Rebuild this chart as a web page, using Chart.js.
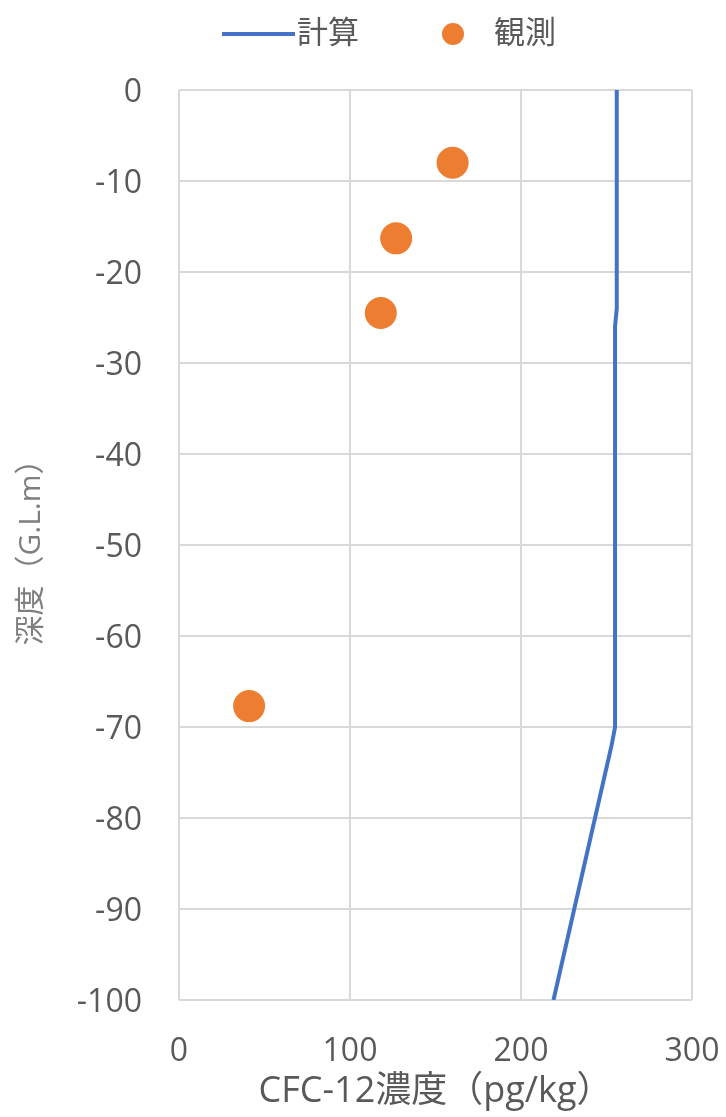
<!DOCTYPE html>
<html>
<head>
<meta charset="utf-8">
<script src="https://cdn.jsdelivr.net/npm/chart.js@4/dist/chart.umd.min.js"></script>
<style>
  body { margin: 0; background: #fff; }
  #wrap { width: 726px; height: 1117px; }
</style>
</head>
<body>
<div id="wrap"><canvas id="myChart" width="726" height="1117"></canvas></div>
<script>
// 計算 (model profile)
const calcConc = [256, 256, 255, 255, 253, 219];
const calcDepth = [0, -24, -26, -70, -72, -100];
// 観測 (observed)
const obsConc = [160, 127, 118, 41];
const obsDepth = [-8, -16.3, -24.5, -67.7];

const seriesNames = ['計算', '観測'];
const xTitle = 'CFC-12濃度（pg/kg）';
const yTitle = '深度（G.L.m）';

const FONT = '"Open Sans", "Noto Sans CJK JP", sans-serif';
const BLUE = '#4472C4';
const ORANGE = '#ED7D31';

// legend drawn by hand: short line for 計算, dot for 観測
const legendPlugin = {
  id: 'excelLegend',
  afterDraw(chart) {
    const ctx = chart.ctx;
    const y = 34;
    ctx.save();
    ctx.font = '31px ' + FONT;
    ctx.textBaseline = 'middle';
    ctx.fillStyle = '#595959';
    // line sample
    ctx.strokeStyle = BLUE;
    ctx.lineWidth = 4;
    ctx.beginPath();
    ctx.moveTo(222, y);
    ctx.lineTo(295, y);
    ctx.stroke();
    ctx.fillText(seriesNames[0], 297, y);
    // dot sample
    ctx.fillStyle = ORANGE;
    ctx.beginPath();
    ctx.arc(453, y, 11, 0, Math.PI * 2);
    ctx.fill();
    ctx.fillStyle = '#595959';
    ctx.fillText(seriesNames[1], 494, y);
    ctx.restore();
  }
};

const ctx = document.getElementById('myChart').getContext('2d');
new Chart(ctx, {
  type: 'scatter',
  data: {
    datasets: [
      {
        label: seriesNames[0],
        type: 'line',
        data: calcConc.map((c, i) => ({ x: c, y: calcDepth[i] })),
        borderColor: BLUE,
        borderWidth: 4,
        pointRadius: 0,
        fill: false,
        tension: 0
      },
      {
        label: seriesNames[1],
        data: obsConc.map((c, i) => ({ x: c, y: obsDepth[i] })),
        backgroundColor: ORANGE,
        borderColor: ORANGE,
        borderWidth: 0,
        pointRadius: 16
      }
    ]
  },
  options: {
    responsive: false,
    animation: false,
    layout: { padding: { top: 90, right: 34, left: 0, bottom: 0 } },
    plugins: {
      legend: { display: false },
      tooltip: { enabled: false }
    },
    scales: {
      x: {
        type: 'linear',
        min: 0,
        max: 300,
        ticks: { stepSize: 100, padding: 33, color: '#595959', font: { family: FONT, size: 32 } },
        grid: { color: '#D9D9D9', lineWidth: 2, drawTicks: false },
        border: { display: false },
        title: { display: true, text: xTitle, color: '#595959', padding: { top: 0, bottom: 4 }, font: { family: FONT, size: 36 } },
        afterFit: s => { s.height = 117; s.paddingLeft = 0; s.paddingRight = 0; }
      },
      y: {
        type: 'linear',
        min: -100,
        max: 0,
        ticks: { stepSize: 10, padding: 37, labelOffset: 3, color: '#595959', font: { family: FONT, size: 32 } },
        grid: { color: '#D9D9D9', lineWidth: 2, drawTicks: false },
        border: { display: false },
        title: { display: true, text: yTitle, color: '#7F7F7F', padding: { top: 13, bottom: 0 }, font: { family: FONT, size: 30 } },
        afterFit: s => { s.width = 179; s.paddingTop = 0; s.paddingBottom = 0; }
      }
    }
  },
  plugins: [legendPlugin]
});
</script>
</body>
</html>
